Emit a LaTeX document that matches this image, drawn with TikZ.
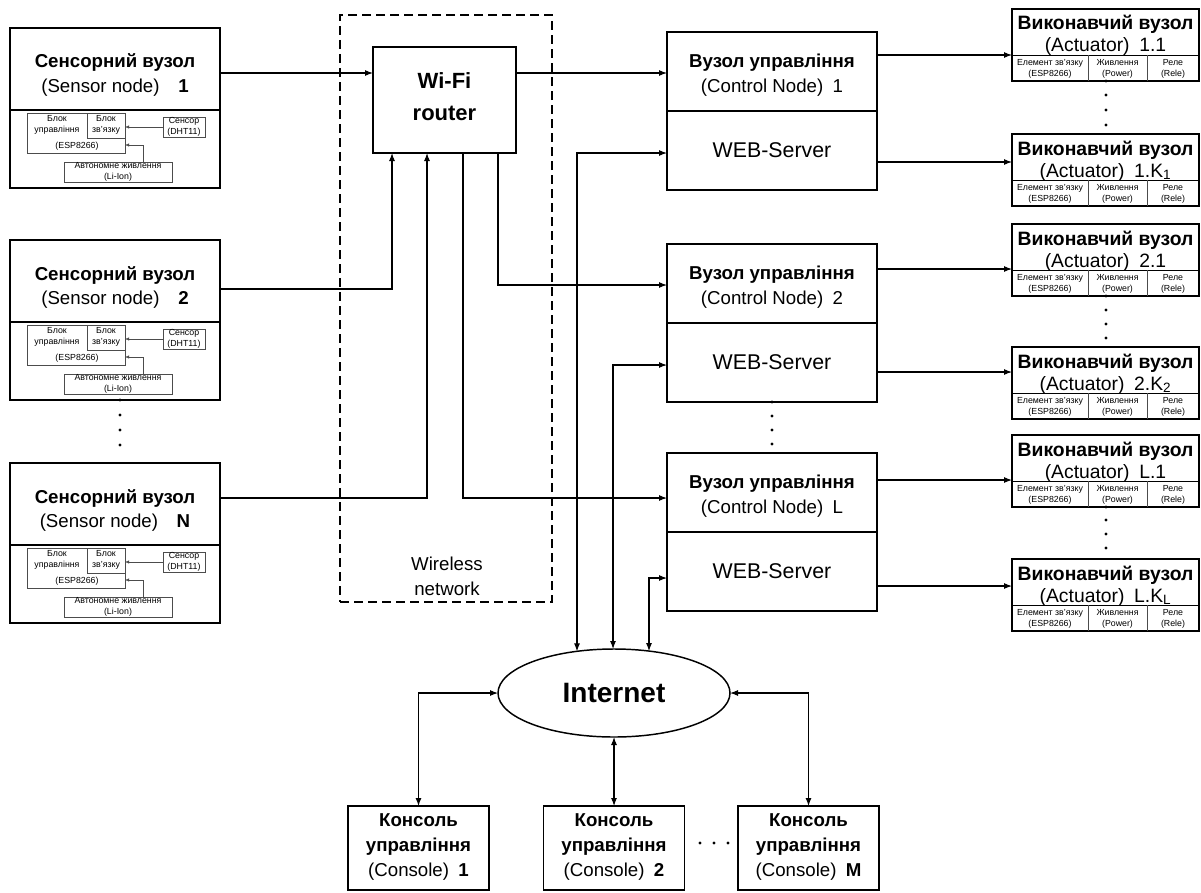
\documentclass[tikz,border=0pt]{standalone}
\usepackage{fontspec}
\setmainfont{Liberation Sans}
\usetikzlibrary{arrows.meta,shapes.geometric}
\newcommand{\rbox}[6]{\node[#6, minimum width={((#4)-(#2))*0.75pt}, minimum height={((#5)-(#3))*0.75pt}] (#1) at ({((#2)+(#4))/2},{((#3)+(#5))/2}) {};}
\newcommand{\sensornode}[3]{%
 \rbox{#1}{10}{#2}{220}{#2+160}{mainbox}
 \draw[line width=1.1pt] (10,#2+82) -- (220,#2+82);
 \node[bigb, anchor=base] (#1ta) at (115,#2+40) {Сенсорний вузол};
 \node[big, anchor=base] (#1tb) at (115,#2+64) {(Sensor node)\quad\textbf{#3}};
 \rbox{#1mcu}{27}{#2+85}{125}{#2+125}{thinbox}
 \draw[thinline] (87,#2+85) -- (87,#2+110) -- (125,#2+110);
 \node[tiny] (#1ma) at (57,#2+97) {Блок\\управління};
 \node[tiny] (#1mb) at (106,#2+97) {Блок\\зв'язку};
 \node[tiny] (#1mc) at (77,#2+118) {(ESP8266)};
 \rbox{#1dht}{163}{#2+89}{205}{#2+109}{thinbox}
 \node[tiny] (#1d) at (184,#2+99) {Сенсор\\(DHT11)};
 \rbox{#1pwr}{64}{#2+134}{172}{#2+154}{thinbox}
 \node[tiny] (#1p) at (118,#2+144) {Автономне живлення\\(Li-Ion)};
 \coordinate (#1k) at (143,#2+117);
 \draw[tarr] (#1dht.west) -- (#1mcu.east |- #1dht.west);
 \draw[tarr] (#1pwr.north -| #1k) -- (#1k) -- (#1mcu.east |- #1k);
}
\newcommand{\ctrlnode}[3]{%
 \rbox{#1}{667}{#2}{877}{#2+158}{mainbox}
 \draw[line width=1.1pt] (667,#2+79) -- (877,#2+79);
 \node[ctlb, anchor=base] (#1ta) at (772,#2+35) {Вузол управління};
 \node[ctl, anchor=base] (#1tb) at (772,#2+60) {(Control Node)\enspace #3};
 \node[web, anchor=base] (#1tw) at (772,#2+125) {WEB-Server};
}
\newcommand{\actnode}[3]{%
 \rbox{#1}{1012}{#2}{1199}{#2+72}{mainbox}
 \draw[line width=0.7pt] (1012,#2+46) -- (1199,#2+46);
 \draw[thinline] (1088,#2+46) -- (1088,#2+72);
 \draw[thinline] (1147,#2+46) -- (1147,#2+72);
 \node[actb, anchor=base] (#1ta) at (1105.5,#2+21) {Виконавчий вузол};
 \node[act, anchor=base] (#1tb) at (1105.5,#2+43) {(Actuator)\enspace #3};
 \node[tiny] (#1ca) at (1050,#2+59.5) {Елемент зв'язку\\(ESP8266)};
 \node[tiny] (#1cb) at (1117.5,#2+59.5) {Живлення\\(Power)};
 \node[tiny] (#1cc) at (1173,#2+59.5) {Реле\\(Rele)};
}
\newcommand{\consnode}[4]{%
 \rbox{#1}{#2}{806}{#3}{890}{mainbox}
 \node[bigb, anchor=base] (#1ta) at ({((#2)+(#3))/2},826) {Консоль};
 \node[bigb, anchor=base] (#1tb) at ({((#2)+(#3))/2},851) {управління};
 \node[big, anchor=base] (#1tc) at ({((#2)+(#3))/2},876) {(Console)\enspace\textbf{#4}};
}
\begin{document}
\begin{tikzpicture}[x=0.75pt,y=-0.75pt,
  mainbox/.style={draw, line width=1.1pt, inner sep=0pt, outer sep=0pt},
  thinbox/.style={draw=black!70, line width=0.35pt, inner sep=0pt, outer sep=0pt},
  thinline/.style={draw=black!70, line width=0.35pt},
  dashbox/.style={draw, line width=1pt, dash pattern=on 7pt off 3.5pt, inner sep=0pt, outer sep=0pt},
  arr/.style={line width=0.8pt, -{Latex[length=6pt,width=4.5pt]}},
  barr/.style={line width=0.8pt, {Latex[length=6pt,width=4.5pt]}-{Latex[length=6pt,width=4.5pt]}},
  tarr/.style={draw=black!70, line width=0.35pt, -{Latex[length=3pt,width=2.4pt]}},
  tiny/.style={font=\fontsize{6.6}{8.2}\selectfont, align=center, inner sep=0pt},
  big/.style={font=\fontsize{14}{16}\selectfont, inner sep=0pt},
  bigb/.style={font=\bfseries\fontsize{14}{16}\selectfont, inner sep=0pt},
  ctl/.style={font=\fontsize{14}{16}\selectfont, inner sep=0pt},
  ctlb/.style={font=\bfseries\fontsize{14}{16}\selectfont, inner sep=0pt},
  web/.style={font=\fontsize{16}{18}\selectfont, inner sep=0pt},
  act/.style={font=\fontsize{14.5}{16}\selectfont, inner sep=0pt},
  actb/.style={font=\bfseries\fontsize{14.5}{16}\selectfont, inner sep=0pt},
  rtb/.style={font=\bfseries\fontsize{16.5}{20}\selectfont, inner sep=0pt},
  vdot/.style={circle, fill, inner sep=0pt, minimum size=2.4pt},
]
\useasboundingbox (0,0) rectangle (1201,892);

% wireless network region
\rbox{wlan}{340}{15}{552}{602}{dashbox}
\node[big, anchor=base] (wl1) at (447,570) {Wireless};
\node[big, anchor=base] (wl2) at (447,595) {network};

% sensor nodes
\sensornode{s1}{28}{1}
\sensornode{s2}{240}{2}
\sensornode{sN}{463}{N}
\foreach \y [count=\i] in {400,415,430,445} \node[vdot] (sd\i) at (120,\y) {};

% router
\rbox{router}{373}{47}{516}{153}{mainbox}
\node[rtb, anchor=base] (rt1) at (444.5,89) {Wi-Fi};
\node[rtb, anchor=base] (rt2) at (444.5,120) {router};

% control nodes
\ctrlnode{c1}{32}{1}
\ctrlnode{c2}{244}{2}
\ctrlnode{cL}{453}{L}
\foreach \y [count=\i] in {402,416,430,444} \node[vdot] (cd\i) at (772,\y) {};

% actuators
\actnode{a11}{9}{1.1}
\actnode{a1k}{134}{1.K\textsubscript{1}}
\actnode{a21}{224}{2.1}
\actnode{a2k}{347}{2.K\textsubscript{2}}
\actnode{al1}{435}{L.1}
\actnode{alk}{559}{L.K\textsubscript{L}}
\foreach \y [count=\i] in {81,95,110,125} \node[vdot] (ad1\i) at (1106,\y) {};
\foreach \y [count=\i] in {296,310,324,338} \node[vdot] (ad2\i) at (1106,\y) {};
\foreach \y [count=\i] in {507,520,534,548} \node[vdot] (ad3\i) at (1106,\y) {};

% internet
\node[ellipse, draw, line width=1.1pt, minimum width={232*0.75pt}, minimum height={88*0.75pt}, inner sep=0pt, outer sep=0pt, font=\bfseries\fontsize{21}{24}\selectfont] (inet) at (614,693) {Internet};

% consoles
\consnode{con1}{348}{489}{1}
\consnode{con2}{543.5}{684.5}{2}
\consnode{conM}{738}{879}{M}
\foreach \x [count=\i] in {700,714,728} \node[vdot] (kd\i) at (\x,843) {};

% connectors: sensors -> router -> control nodes
\coordinate (y1) at (0,73);
\draw[arr] (s1.east |- y1) -- (router.west |- y1);
\draw[arr] (router.east |- y1) -- (c1.west |- y1);
\coordinate (k2) at (392,289);
\draw[arr] (s2.east |- k2) -- (k2) -- (router.south -| k2);
\coordinate (kN) at (427,498);
\draw[arr] (sN.east |- kN) -- (kN) -- (router.south -| kN);
\coordinate (k3) at (498,285);
\draw[arr] (router.south -| k3) -- (k3) -- (c2.west |- k3);
\coordinate (k4) at (463,498);
\draw[arr] (router.south -| k4) -- (k4) -- (cL.west |- k4);

% web servers <-> internet
\coordinate (w1) at (577,153);
\draw[barr] (w1 |- inet.132) -- (w1) -- (c1.west |- w1);
\coordinate (w2) at (613,365);
\draw[barr] (w2 |- inet.91) -- (w2) -- (c2.west |- w2);
\coordinate (w3) at (649,578);
\draw[barr] (w3 |- inet.50) -- (w3) -- (cL.west |- w3);

% control nodes -> actuators
\coordinate (h1) at (0,55);  \draw[arr] (c1.east |- h1) -- (a11.west |- h1);
\coordinate (h2) at (0,162); \draw[arr] (c1.east |- h2) -- (a1k.west |- h2);
\coordinate (h3) at (0,269); \draw[arr] (c2.east |- h3) -- (a21.west |- h3);
\coordinate (h4) at (0,372); \draw[arr] (c2.east |- h4) -- (a2k.west |- h4);
\coordinate (h5) at (0,480); \draw[arr] (cL.east |- h5) -- (al1.west |- h5);
\coordinate (h6) at (0,586); \draw[arr] (cL.east |- h6) -- (alk.west |- h6);

% consoles <-> internet
\draw[barr] (inet.west) -| (con1.north);
\draw[barr] (inet.south) -- (con2.north);
\draw[barr] (inet.east) -| (conM.north);
\end{tikzpicture}
\end{document}
